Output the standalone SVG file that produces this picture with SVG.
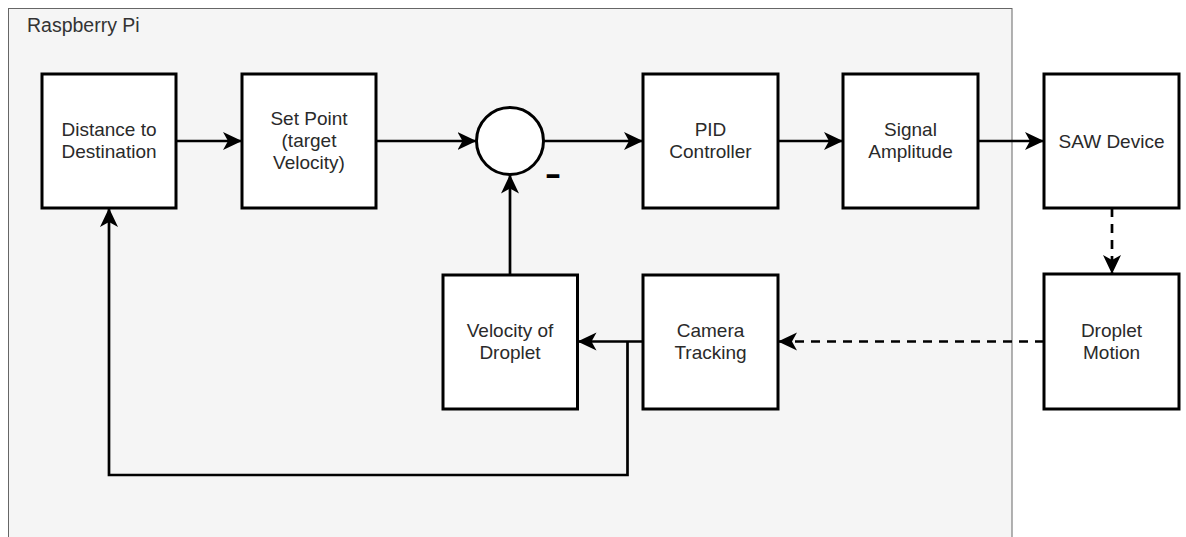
<svg xmlns="http://www.w3.org/2000/svg" width="1186" height="537" viewBox="0 0 1186 537">
  <style>
    .box { fill: #ffffff; stroke: #000000; stroke-width: 3; }
    .lbl { font-family: "Liberation Sans", Arial, Helvetica, sans-serif; font-size: 19px; fill: #2a2a2a; text-anchor: middle; }
    .edge { fill: none; stroke: #000000; stroke-width: 2.7; }
    .dash { stroke-dasharray: 9 7; }
  </style>
  <defs>
    <marker id="arrow" markerUnits="userSpaceOnUse" markerWidth="20" markerHeight="20" viewBox="0 0 20 20" refX="19" refY="10" orient="auto">
      <path d="M0,1 L19,10 L0,19 L5,10 Z" fill="#000000"/>
    </marker>
  </defs>

  <!-- Raspberry Pi container -->
  <g id="raspberry-pi">
    <rect x="8.5" y="8.5" width="1003.5" height="540" fill="#f5f5f5" stroke="#666666" stroke-width="1"/>
    <text x="27" y="32" style="font-family: 'Liberation Sans', Arial, sans-serif; font-size: 19.5px; fill: #333333;">Raspberry Pi</text>
  </g>

  <!-- connectors -->
  <g id="connectors">
    <line class="edge" x1="176" y1="141" x2="242" y2="141" marker-end="url(#arrow)"/>
    <line class="edge" x1="376" y1="141" x2="476.5" y2="141" marker-end="url(#arrow)"/>
    <line class="edge" x1="543.5" y1="141" x2="643" y2="141" marker-end="url(#arrow)"/>
    <line class="edge" x1="778" y1="141" x2="843" y2="141" marker-end="url(#arrow)"/>
    <line class="edge" x1="978" y1="141" x2="1044" y2="141" marker-end="url(#arrow)"/>
    <line class="edge dash" x1="1112" y1="208" x2="1112" y2="274" marker-end="url(#arrow)"/>
    <line class="edge dash" x1="1044" y1="341.5" x2="778" y2="341.5" marker-end="url(#arrow)"/>
    <line class="edge" x1="643" y1="341.5" x2="577.5" y2="341.5" marker-end="url(#arrow)"/>
    <line class="edge" x1="510" y1="275" x2="510" y2="174.5" marker-end="url(#arrow)"/>
    <polyline class="edge" points="627.5,341.5 627.5,475 109,475 109,208" marker-end="url(#arrow)"/>
  </g>

  <g id="distance">
    <rect class="box" x="42" y="74" width="134" height="134"/>
    <text class="lbl" x="109" y="136">Distance to</text>
    <text class="lbl" x="109" y="158">Destination</text>
  </g>

  <g id="set-point">
    <rect class="box" x="242" y="74" width="134" height="134"/>
    <text class="lbl" x="309" y="125">Set Point</text>
    <text class="lbl" x="309" y="147">(target</text>
    <text class="lbl" x="309" y="169">Velocity)</text>
  </g>

  <g id="summing-junction">
    <circle cx="510" cy="141" r="33.5" fill="#ffffff" stroke="#000000" stroke-width="3"/>
    <text x="0" y="0" transform="translate(553 184) scale(1.55 1)" style="font-family: 'Liberation Sans', Arial, sans-serif; font-size: 32px; font-weight: bold; fill: #000000; text-anchor: middle;">-</text>
  </g>

  <g id="pid">
    <rect class="box" x="643" y="74" width="135" height="134"/>
    <text class="lbl" x="710.5" y="136">PID</text>
    <text class="lbl" x="710.5" y="158">Controller</text>
  </g>

  <g id="signal">
    <rect class="box" x="843" y="74" width="135" height="134"/>
    <text class="lbl" x="910.5" y="136">Signal</text>
    <text class="lbl" x="910.5" y="158">Amplitude</text>
  </g>

  <g id="saw-device">
    <rect class="box" x="1044" y="74" width="135" height="134"/>
    <text class="lbl" x="1111.5" y="147.5">SAW Device</text>
  </g>

  <g id="droplet-motion">
    <rect class="box" x="1044" y="274" width="135" height="135"/>
    <text class="lbl" x="1111.5" y="336.5">Droplet</text>
    <text class="lbl" x="1111.5" y="358.5">Motion</text>
  </g>

  <g id="camera-tracking">
    <rect class="box" x="643" y="275" width="135" height="134"/>
    <text class="lbl" x="710.5" y="336.5">Camera</text>
    <text class="lbl" x="710.5" y="358.5">Tracking</text>
  </g>

  <g id="velocity">
    <rect class="box" x="443" y="275" width="134.5" height="134"/>
    <text class="lbl" x="510" y="336.5">Velocity of</text>
    <text class="lbl" x="510" y="358.5">Droplet</text>
  </g>
</svg>
